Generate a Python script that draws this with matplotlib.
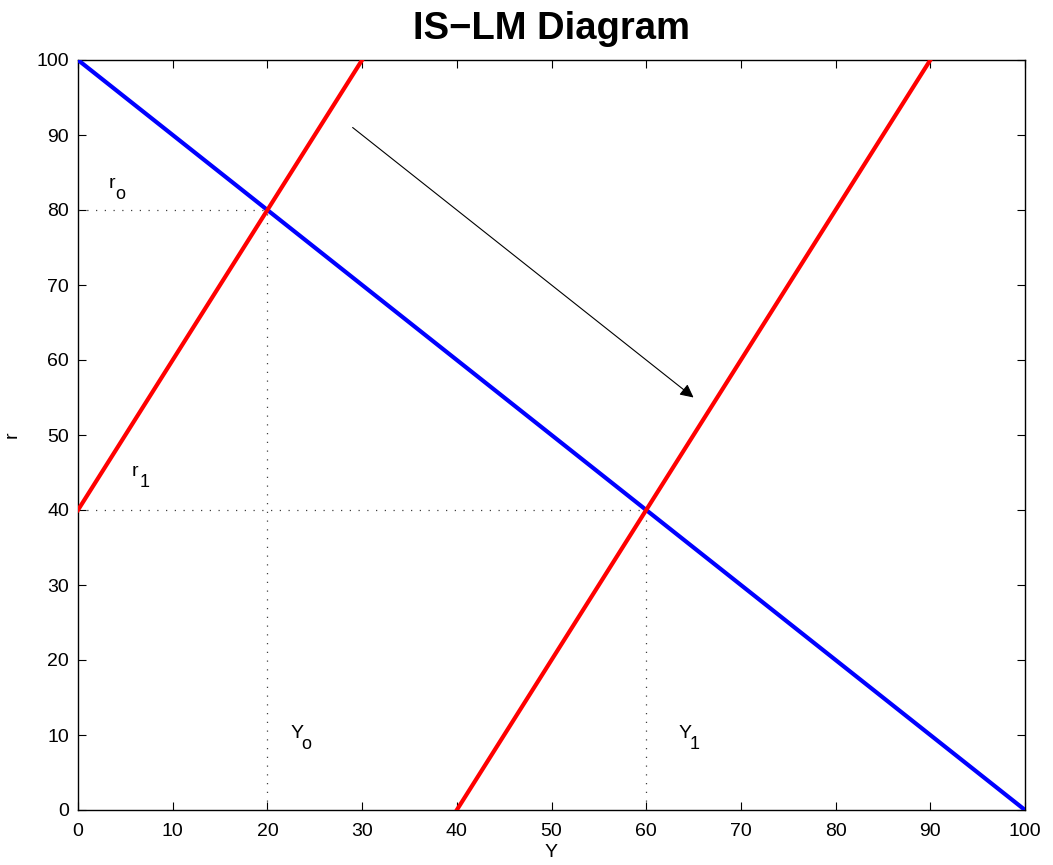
import matplotlib
matplotlib.use("Agg")
import matplotlib.pyplot as plt
import numpy as np

plt.rcParams['font.family'] = ['Liberation Sans', 'DejaVu Sans']

# Data
Y = np.array([0, 100])
IS = np.array([100, 0])
LM0_x = [0, 30]
LM0_r = [40, 100]
LM1_x = [40, 90]
LM1_r = [0, 100]

# equilibrium points
eq_Y = [20, 60]
eq_r = [80, 40]

# annotation labels: main letter + subscript
label_main = ["r", "r", "Y", "Y"]
label_sub = ["o", "1", "o", "1"]
label_x = [3.2, 5.7, 22.4, 63.4]
label_y = [82.9, 44.5, 9.6, 9.6]

arrow_start = (29, 91)
arrow_end = (65, 55)

fig = plt.figure(figsize=(10.53, 8.65), dpi=100)
ax = fig.add_axes([78/1053, 55/865, 947/1053, 750/865])

ax.plot(Y, IS, color='blue', linewidth=3, zorder=3)
ax.plot(LM0_x, LM0_r, color='red', linewidth=3, zorder=3)
ax.plot(LM1_x, LM1_r, color='red', linewidth=3, zorder=3)

dots = (0, (1, 6))
for yy, rr in zip(eq_Y, eq_r):
    ax.plot([0, yy], [rr, rr], color='0.25', linestyle=dots, linewidth=0.9, zorder=2)
    ax.plot([yy, yy], [0, rr], color='0.25', linestyle=dots, linewidth=0.9, zorder=2)

# subscripts sit about one x-height below the baseline, nearly full size
for m, s, x, y in zip(label_main, label_sub, label_x, label_y):
    ax.text(x, y, m, fontsize=14, va='baseline', ha='left')
    dx = 5.3 if m == "r" else 8.3
    ax.annotate(s, xy=(x, y), xytext=(dx, -8), textcoords='offset points',
                fontsize=13, va='baseline', ha='left')

ax.annotate("", xy=arrow_end, xytext=arrow_start,
            arrowprops=dict(arrowstyle='-|>', color='black', lw=0.8,
                            mutation_scale=20, shrinkA=0, shrinkB=0))

ax.set_xlim(0, 100)
ax.set_ylim(0, 100)
ax.set_xticks(np.arange(0, 101, 10))
ax.set_yticks(np.arange(0, 101, 10))
ax.tick_params(direction='in', top=True, right=True, length=6, width=0.8, labelsize=14)
ax.tick_params(axis='x', pad=9)
ax.tick_params(axis='y', pad=6.5)
for s in ax.spines.values():
    s.set_linewidth(1.0)

ax.set_xlabel("Y", fontsize=14, labelpad=3)
ax.set_ylabel("r", fontsize=14, labelpad=11)
ax.set_title("IS\u2212LM Diagram", fontsize=27.5, fontweight='bold', pad=15)

fig.savefig("out.png", dpi=100)
